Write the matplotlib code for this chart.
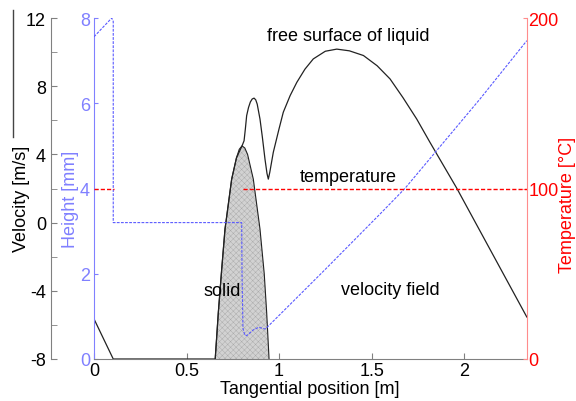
import matplotlib
matplotlib.use('Agg')
import matplotlib.pyplot as plt
import numpy as np
from matplotlib.lines import Line2D

plt.rcParams['font.family'] = ['Liberation Sans', 'DejaVu Sans']
plt.rcParams['font.size'] = 13
plt.rcParams['axes.unicode_minus'] = False
plt.rcParams['hatch.linewidth'] = 0.3
plt.rcParams['hatch.color'] = '#a8a8a8'

# ---------------- data ----------------
# free surface of liquid (height, mm)
surface_x = [0.0, 0.104, 0.655, 0.672, 0.69, 0.708, 0.744, 0.77, 0.80, 0.811, 0.818, 0.825,
             0.835, 0.845, 0.855, 0.865, 0.874, 0.882, 0.897, 0.91, 0.924, 0.935, 0.942,
             0.95, 0.969, 1.0, 1.023, 1.06, 1.096,
             1.14, 1.185, 1.25, 1.312, 1.38, 1.456, 1.53, 1.6, 1.67, 1.744, 1.816,
             1.96, 2.339]
surface_h = [0.94, 0.0, 0.0, 1.1, 2.1, 3.05, 4.22, 4.72, 5.0, 5.12, 5.4, 5.71,
             5.9, 6.03, 6.1, 6.12, 6.08, 5.98, 5.63, 5.2, 4.69, 4.35, 4.22,
             4.38, 4.85, 5.4, 5.79, 6.18, 6.49,
             6.8, 7.04, 7.22, 7.27, 7.23, 7.12, 6.88, 6.57, 6.13, 5.63, 5.08,
             4.01, 0.985]

# solid profile (height, mm)
solid_x = [0.655, 0.672, 0.69, 0.708, 0.744, 0.77, 0.785, 0.80, 0.815, 0.83, 0.861, 0.897, 0.92, 0.933, 0.946]
solid_h = [0.0, 1.1, 2.1, 3.05, 4.22, 4.72, 4.92, 5.0, 4.95, 4.8, 4.22, 3.05, 2.0, 1.1, 0.0]

# velocity field (m/s)
vel_x = [0.0, 0.096, 0.104, 0.104, 0.798, 0.80, 0.805, 0.815, 0.825, 0.86, 0.89,
         0.924, 0.93, 1.24, 1.55, 1.68, 2.086, 2.339]
vel_v = [10.9, 12.0, 11.8, 0.0, 0.0, -3.0, -6.2, -6.6, -6.63, -6.3, -6.14,
         -6.24, -6.2, -2.85, 0.55, 2.0, 7.25, 10.67]

# temperature (deg C)
temp_x = [0.0, 0.108, np.nan, 0.807, 2.34]
temp_T = [100, 100, np.nan, 100, 100]

x_ticks = [0, 0.5, 1, 1.5, 2]
x_ticklabels = ['0', '0.5', '1', '1.5', '2']
h_ticks = [0, 2, 4, 6, 8]
v_ticks = [-8, -4, 0, 4, 8, 12]
v_minor = [-6, -2, 2, 6, 10]
t_ticks = [0, 100, 200]

BLUE_AX = '#8080ff'
BLUE_LN = '#5a5aff'
RED = '#ff0000'
RED_SP = '#ff8c8c'
GRAY = '#808080'

fig = plt.figure(figsize=(5.76, 4.02), dpi=100)
ax = fig.add_axes([94/576, 42/402, 433/576, 341/402])

# ---- height axis (main) ----
ax.fill_between(solid_x, solid_h, 0, facecolor='#d2d2d2', hatch='xxxxxx',
                edgecolor='#a8a8a8', linewidth=0)
ax.plot(solid_x, solid_h, color='#222222', lw=0.8)
ax.plot(surface_x, surface_h, color='#222222', lw=0.9)
ax.set_xlim(0, 2.34)
ax.set_ylim(0, 8)
ax.set_xticks(x_ticks)
ax.set_xticklabels(x_ticklabels)
ax.set_yticks(h_ticks)
ax.tick_params(axis='x', direction='in', length=4, color=GRAY, pad=2.5, labelcolor='black')
ax.tick_params(axis='y', direction='in', length=3, color=BLUE_AX, pad=2.9, labelcolor=BLUE_AX)
ax.spines['top'].set_visible(False)
ax.spines['right'].set_visible(False)
ax.spines['left'].set_color(BLUE_AX)
ax.spines['bottom'].set_color(GRAY)
ax.set_xlabel('Tangential position [m]')
ax.xaxis.set_label_coords(0.499, -0.062)
ax.set_ylabel('Height [mm]', color=BLUE_AX)
ax.yaxis.set_label_coords(-0.035, 0.472)

ax.text(1.373, 7.58, 'free surface of liquid', ha='center', va='center')
ax.text(1.373, 4.29, 'temperature', ha='center', va='center')
ax.text(0.695, 1.6, 'solid', ha='center', va='center')
ax.text(1.6, 1.62, 'velocity field', ha='center', va='center')

# ---- velocity axis ----
axv = ax.twinx()
axv.plot(vel_x, vel_v, color=BLUE_LN, lw=0.8, linestyle=(0, (2.5, 1.2)))
axv.set_ylim(-8, 12)
axv.set_yticks(v_ticks)
axv.set_yticks(v_minor, minor=True)
axv.yaxis.set_ticks_position('left')
axv.yaxis.set_label_position('left')
axv.spines['left'].set_position(('axes', -0.0993))
axv.spines['left'].set_color(GRAY)
for s in ['right', 'top', 'bottom']:
    axv.spines[s].set_visible(False)
axv.tick_params(axis='y', which='both', direction='in', length=4, color=GRAY, pad=3.6,
                labelcolor='black')
axv.set_ylabel('Velocity [m/s]')
axv.yaxis.set_label_coords(-0.148, 0.472)
axv.patch.set_visible(False)

# ---- temperature axis ----
axt = ax.twinx()
axt.plot(temp_x, temp_T, color=RED, lw=1.0, linestyle=(0, (3, 1.5)))
axt.set_ylim(0, 200)
axt.set_yticks(t_ticks)
for s in ['left', 'top', 'bottom']:
    axt.spines[s].set_visible(False)
axt.spines['right'].set_color(RED_SP)
axt.tick_params(axis='y', direction='in', length=3, color=RED_SP, pad=1.0, labelcolor=RED)
axt.set_ylabel('Temperature [°C]', color=RED)
axt.yaxis.set_label_coords(1.074, 0.455)
axt.patch.set_visible(False)

# left frame remnant line
fig.add_artist(Line2D([13/576, 13/576], [1 - 11/402, 1 - 138/402],
                      transform=fig.transFigure, color='#444444', lw=1.0))

fig.savefig('out.png', dpi=100)
